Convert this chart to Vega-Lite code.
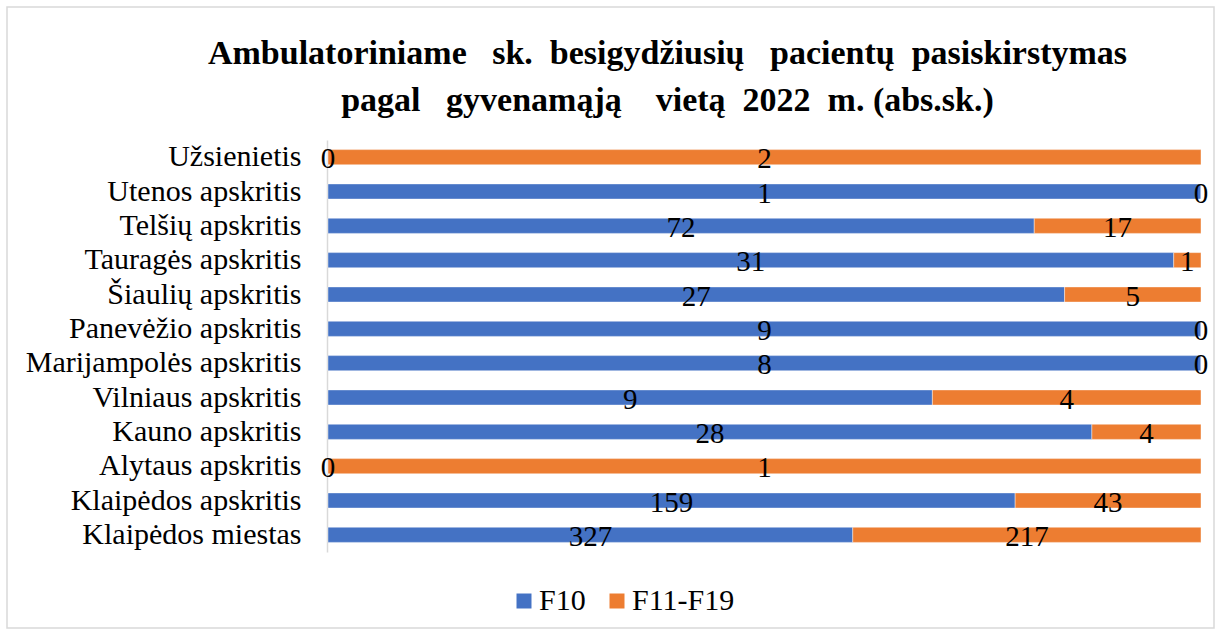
{
  "$schema": "https://vega.github.io/schema/vega-lite/v6.json",
  "width": 1207,
  "height": 621,
  "autosize": {"type": "none"},
  "padding": {"left": 7, "top": 7, "right": 7, "bottom": 7},
  "background": "white",
  "config": {
    "view": {"stroke": "#d9d9d9", "strokeWidth": 1.5},
    "font": "Liberation Serif"
  },
  "title": {
    "text": ["Ambulatoriniame \u00a0\u00a0sk. \u00a0besigydžiusių \u00a0\u00a0pacientų \u00a0pasiskirstymas", "\u00a0\u00a0\u00a0\u00a0\u00a0pagal \u00a0\u00a0gyvenamąją \u00a0\u00a0\u00a0vietą \u00a02022 \u00a0m. (abs.sk.)"],
    "font": "Liberation Serif",
    "fontSize": 34,
    "fontWeight": "bold",
    "color": "#000000",
    "anchor": "middle",
    "frame": "group",
    "dx": 57,
    "offset": -111,
    "lineHeight": 47
  },
  "data": {
    "values": [
      {"region": "Užsienietis", "group": "F10", "value": 0},
      {"region": "Užsienietis", "group": "F11-F19", "value": 2},
      {"region": "Utenos apskritis", "group": "F10", "value": 1},
      {"region": "Utenos apskritis", "group": "F11-F19", "value": 0},
      {"region": "Telšių apskritis", "group": "F10", "value": 72},
      {"region": "Telšių apskritis", "group": "F11-F19", "value": 17},
      {"region": "Tauragės apskritis", "group": "F10", "value": 31},
      {"region": "Tauragės apskritis", "group": "F11-F19", "value": 1},
      {"region": "Šiaulių apskritis", "group": "F10", "value": 27},
      {"region": "Šiaulių apskritis", "group": "F11-F19", "value": 5},
      {"region": "Panevėžio apskritis", "group": "F10", "value": 9},
      {"region": "Panevėžio apskritis", "group": "F11-F19", "value": 0},
      {"region": "Marijampolės apskritis", "group": "F10", "value": 8},
      {"region": "Marijampolės apskritis", "group": "F11-F19", "value": 0},
      {"region": "Vilniaus apskritis", "group": "F10", "value": 9},
      {"region": "Vilniaus apskritis", "group": "F11-F19", "value": 4},
      {"region": "Kauno apskritis", "group": "F10", "value": 28},
      {"region": "Kauno apskritis", "group": "F11-F19", "value": 4},
      {"region": "Alytaus apskritis", "group": "F10", "value": 0},
      {"region": "Alytaus apskritis", "group": "F11-F19", "value": 1},
      {"region": "Klaipėdos apskritis", "group": "F10", "value": 159},
      {"region": "Klaipėdos apskritis", "group": "F11-F19", "value": 43},
      {"region": "Klaipėdos miestas", "group": "F10", "value": 327},
      {"region": "Klaipėdos miestas", "group": "F11-F19", "value": 217}
    ]
  },
  "encoding": {
    "y": {
      "field": "region",
      "type": "nominal",
      "sort": null,
      "scale": {"range": [133, 545], "paddingInner": 0.56, "paddingOuter": 0.28},
      "axis": {
        "title": null,
        "offset": -320,
        "ticks": false,
        "domainColor": "#d9d9d9",
        "domainWidth": 1.5,
        "labelFont": "Liberation Serif",
        "labelFontSize": 30,
        "labelColor": "#000000",
        "labelPadding": 26,
        "labelLimit": 400
      }
    }
  },
  "layer": [
    {
      "mark": {"type": "bar", "stroke": "white", "strokeWidth": 0.6, "strokeOpacity": 0.7},
      "encoding": {
        "x": {
          "field": "value",
          "type": "quantitative",
          "stack": "normalize",
          "scale": {"range": [321, 1194]},
          "axis": null
        },
        "color": {
          "field": "group",
          "type": "nominal",
          "scale": {"domain": ["F10", "F11-F19"], "range": ["#4472C4", "#ED7D31"]},
          "legend": {
            "title": null,
            "orient": "none",
            "direction": "horizontal",
            "legendX": 502,
            "legendY": 579,
            "symbolType": "square",
            "symbolSize": 225,
            "symbolStrokeWidth": 0,
            "labelFont": "Liberation Serif",
            "labelFontSize": 30,
            "labelColor": "#000000",
            "labelOffset": 0,
            "columnPadding": 16
          }
        },
        "order": {"field": "group"}
      }
    },
    {
      "transform": [
        {"stack": "value", "groupby": ["region"], "sort": [{"field": "group"}], "offset": "normalize", "as": ["x0", "x1"]},
        {"fold": ["x0", "x1"], "as": ["edge", "pos"]},
        {"aggregate": [{"op": "mean", "field": "pos", "as": "mid"}], "groupby": ["region", "group", "value"]}
      ],
      "mark": {"type": "text", "font": "Liberation Serif", "fontSize": 29, "color": "#000000", "baseline": "middle", "dy": 2},
      "encoding": {
        "x": {"field": "mid", "type": "quantitative", "scale": {"range": [321, 1194]}},
        "text": {"field": "value", "type": "quantitative"}
      }
    }
  ]
}
